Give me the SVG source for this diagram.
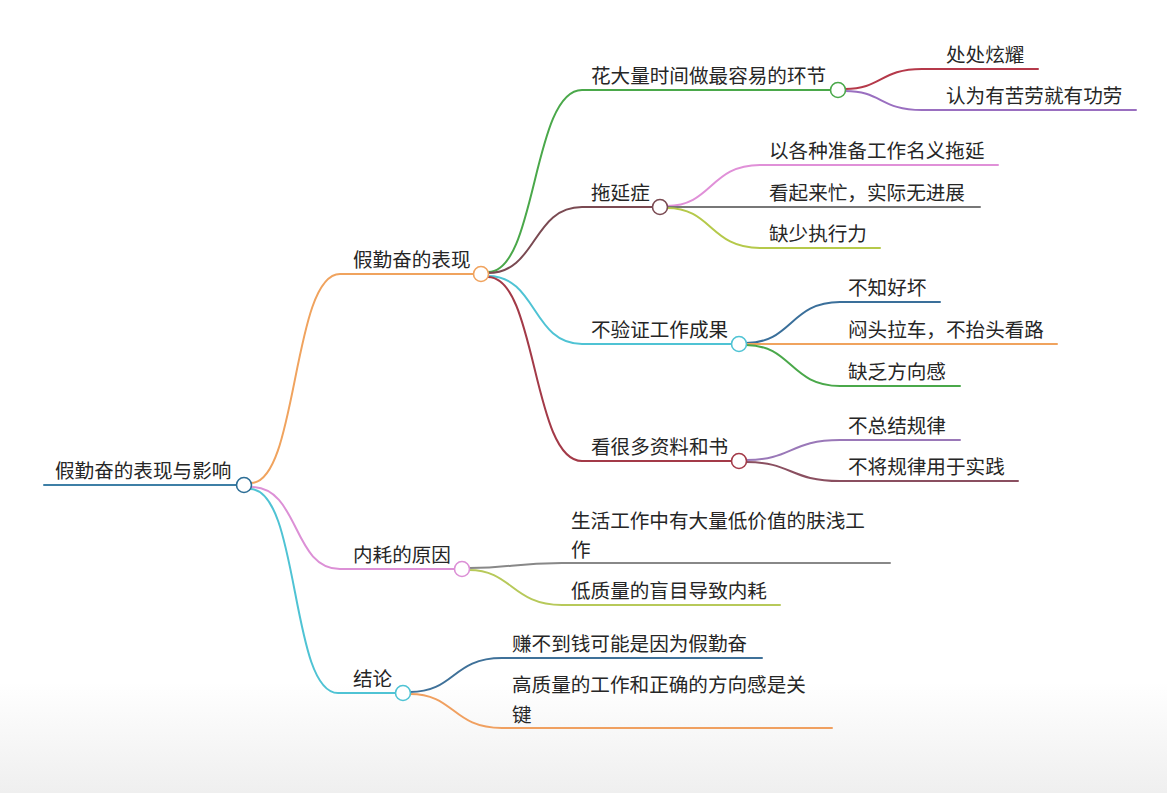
<svg xmlns="http://www.w3.org/2000/svg" width="1167" height="793" viewBox="0 0 1167 793">
<defs>
<linearGradient id="bg" x1="0" y1="0" x2="0" y2="1">
<stop offset="0" stop-color="#ffffff"/>
<stop offset="0.86" stop-color="#ffffff"/>
<stop offset="1" stop-color="#efefef"/>
</linearGradient>
<style>
text{font-family:"Noto Sans CJK SC","Noto Sans",sans-serif;font-size:19.6px;fill:#262626}
.e{fill:none;stroke-width:2;stroke-linecap:round}
circle{fill:#fff;stroke-width:1.6}
</style>
</defs>
<rect width="1167" height="793" fill="url(#bg)"/>
<g id="connectors">
<path class="e" stroke="#3d7fa6" d="M44,485 H237"/>
<path class="e" stroke="#f0a35e" d="M251,483 C298,483 292,274 340,274 H474"/>
<path class="e" stroke="#dc90d6" d="M251,487 C300,487 292,569 340,569 H455"/>
<path class="e" stroke="#4fc3d4" d="M250,489 C300,489 290,693 338,693 H396"/>
<path class="e" stroke="#4aa84a" d="M488,272 C537,272 532,90 582,90 H831"/>
<path class="e" stroke="#7a4a52" d="M488,273 C537,273 532,207 582,207 H653"/>
<path class="e" stroke="#4fc3d4" d="M488,276 C537,276 532,344 582,344 H732"/>
<path class="e" stroke="#a33a48" d="M488,277 C537,277 532,461 582,461 H732"/>
<path class="e" stroke="#b5394a" d="M845,89 C882,89 880,69 922,69 H1038"/>
<path class="e" stroke="#9a6fc0" d="M845,91 C882,91 880,110 922,110 H1136"/>
<path class="e" stroke="#e090d8" d="M667,206 C712,206 710,165 760,165 H998"/>
<path class="e" stroke="#777777" d="M667,207 H980"/>
<path class="e" stroke="#b5c94a" d="M667,208 C712,208 710,248 760,248 H880"/>
<path class="e" stroke="#3a6f9a" d="M746,343 C792,343 790,302 840,302 H940"/>
<path class="e" stroke="#f0a35e" d="M746,344 H1057"/>
<path class="e" stroke="#4aa84a" d="M746,345 C792,345 790,386 840,386 H960"/>
<path class="e" stroke="#9a78b8" d="M746,460 C792,460 790,440 840,440 H960"/>
<path class="e" stroke="#8a4f60" d="M746,462 C792,462 790,481 840,481 H1018"/>
<path class="e" stroke="#888888" d="M469,568 C512,568 512,563 562,563 H890"/>
<path class="e" stroke="#b7c95a" d="M469,570 C512,570 512,605 562,605 H780"/>
<path class="e" stroke="#3f7199" d="M410,692 C455,692 452,658 502,658 H762"/>
<path class="e" stroke="#f0a060" d="M410,694 C455,694 452,728 502,728 H832"/>
</g>
<g id="root"><text x="55" y="478">假勤奋的表现与影响</text><circle cx="244" cy="485" r="7.5" stroke="#2d6e96"/></g>
<g id="n1"><text x="353" y="267">假勤奋的表现</text><circle cx="481" cy="274" r="7.5" stroke="#f0a35e"/></g>
<g id="n2"><text x="353" y="562">内耗的原因</text><circle cx="462" cy="569" r="7.5" stroke="#dc90d6"/></g>
<g id="n3"><text x="353" y="686">结论</text><circle cx="403" cy="693" r="7.5" stroke="#4fc3d4"/></g>
<g id="n11"><text x="591" y="83">花大量时间做最容易的环节</text><circle cx="838" cy="90" r="7.5" stroke="#4aa84a"/></g>
<g id="n12"><text x="591" y="200">拖延症</text><circle cx="660" cy="207" r="7.5" stroke="#7a4a52"/></g>
<g id="n13"><text x="591" y="337">不验证工作成果</text><circle cx="739" cy="344" r="7.5" stroke="#4fc3d4"/></g>
<g id="n14"><text x="591" y="454">看很多资料和书</text><circle cx="739" cy="461" r="7.5" stroke="#a33a48"/></g>
<g id="n111"><text x="946" y="62">处处炫耀</text></g>
<g id="n112"><text x="946" y="103">认为有苦劳就有功劳</text></g>
<g id="n121"><text x="769" y="158">以各种准备工作名义拖延</text></g>
<g id="n122"><text x="769" y="200">看起来忙，实际无进展</text></g>
<g id="n123"><text x="769" y="241">缺少执行力</text></g>
<g id="n131"><text x="848" y="295">不知好坏</text></g>
<g id="n132"><text x="848" y="337">闷头拉车，不抬头看路</text></g>
<g id="n133"><text x="848" y="379">缺乏方向感</text></g>
<g id="n141"><text x="848" y="433">不总结规律</text></g>
<g id="n142"><text x="848" y="474">不将规律用于实践</text></g>
<g id="n21"><text x="571" y="528">生活工作中有大量低价值的肤浅工</text><text x="571" y="557">作</text></g>
<g id="n22"><text x="571" y="598">低质量的盲目导致内耗</text></g>
<g id="n31"><text x="512" y="651">赚不到钱可能是因为假勤奋</text></g>
<g id="n32"><text x="512" y="692">高质量的工作和正确的方向感是关</text><text x="512" y="722">键</text></g>
</svg>
